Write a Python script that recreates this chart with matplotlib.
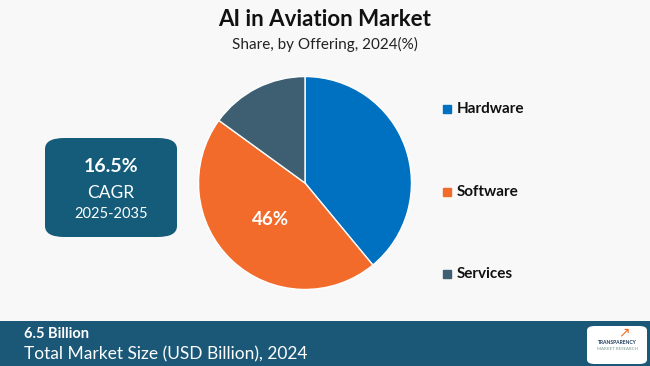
import matplotlib
matplotlib.use("Agg")
import matplotlib.pyplot as plt
import numpy as np
from matplotlib.patches import FancyBboxPatch, Rectangle

# data
segments = ["Hardware", "Software", "Services"]
shares = [39, 46, 15]
colors = ["#0070C0", "#F26B2A", "#3E5F72"]
shown_label = {"Software": "46%"}

title = "AI in Aviation Market"
subtitle = "Share, by Offering, 2024(%)"
cagr_value, cagr_years = "16.5%", "2025-2035"
market_size = "6.5 Billion"
market_caption = "Total Market Size (USD Billion), 2024"

W, H = 650, 366
plt.rcParams["font.family"] = ["Lato", "DejaVu Sans"]

fig = plt.figure(figsize=(W / 100, H / 100), dpi=100)
fig.patch.set_facecolor("#F8F8F8")

def fx(x): return x / W
def fy(y): return 1 - y / H

# pie: centre (305,183), radius ~107 px
r = 107
ax = fig.add_axes([fx(305 - r), fy(183 + r), 2 * r / W, 2 * r / H])
wedges, _ = ax.pie(shares, colors=colors, startangle=90, counterclock=False,
                   wedgeprops=dict(edgecolor="white", linewidth=1))
ax.set_xlim(-1.005, 1.005)
ax.set_ylim(-1.005, 1.005)
ax.set_aspect("equal")
for w, name in zip(wedges, segments):
    if name in shown_label:
        ang = np.deg2rad((w.theta1 + w.theta2) / 2)
        ax.text(0.47 * np.cos(ang), 0.47 * np.sin(ang), shown_label[name],
                color="white", fontsize=13.5, fontweight="bold",
                ha="center", va="center")

# titles
fig.text(0.5, fy(20), title, ha="center", va="center", fontsize=16,
         fontweight="bold", color="#111111")
fig.text(0.5, fy(44), subtitle, ha="center", va="center", fontsize=11,
         color="#222222")

# legend
leg_y = [109, 192, 274]
for name, c, y in zip(segments, colors, leg_y):
    fig.patches.append(Rectangle((fx(443), fy(y + 4)), 8 / W, 8 / H,
                                 transform=fig.transFigure, color=c))
    fig.text(fx(457), fy(y), name, ha="left", va="center", fontsize=11,
             fontweight="bold", color="#111111")

# CAGR box
fig.patches.append(FancyBboxPatch((fx(45), fy(237)), 132 / W, 99 / H,
                                  boxstyle="round,pad=0,rounding_size=0.03",
                                  transform=fig.transFigure,
                                  facecolor="#145C7A", edgecolor="none"))
fig.text(fx(111), fy(167), cagr_value, ha="center", va="center",
         fontsize=14, fontweight="bold", color="white")
fig.text(fx(111), fy(193), "CAGR", ha="center", va="center",
         fontsize=12.5, color="white")
fig.text(fx(111), fy(214), cagr_years, ha="center", va="center",
         fontsize=10.5, color="white")

# footer band
fig.patches.append(Rectangle((0, 0), 1, (H - 321) / H,
                             transform=fig.transFigure,
                             facecolor="#1B5878", edgecolor="none"))
fig.text(fx(24), fy(334), market_size, ha="left", va="center",
         fontsize=10.5, fontweight="bold", color="white")
fig.text(fx(24), fy(354), market_caption, ha="left", va="center",
         fontsize=12.5, color="white")

# logo
fig.patches.append(FancyBboxPatch((fx(587), fy(364)), 60 / W, 38 / H,
                                  boxstyle="round,pad=0,rounding_size=0.012",
                                  transform=fig.transFigure,
                                  facecolor="white", edgecolor="none"))
fig.text(fx(617), fy(343), "TRANSPARENCY", ha="center", va="center",
         fontsize=3.6, fontweight="bold", color="#1B3A5A")
fig.text(fx(617), fy(349), "MARKET RESEARCH", ha="center", va="center",
         fontsize=3.2, color="#7A9A8A")
fig.text(fx(624), fy(332), "\u2197", ha="center", va="center",
         fontsize=10, color="#F26B2A", family=["DejaVu Sans"])

fig.savefig("out.png", dpi=100, facecolor=fig.get_facecolor())
